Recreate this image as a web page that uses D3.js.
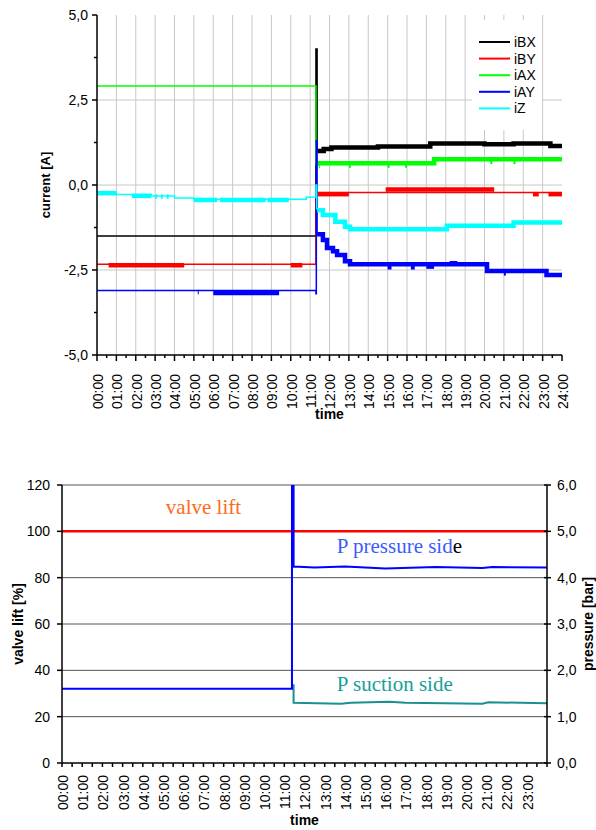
<!DOCTYPE html>
<html>
<head>
<meta charset="UTF-8">
<script src="https://d3js.org/d3.v7.min.js"></script>
<title>valve currents and pressure</title>
<style>
  body { margin: 0; background: #fff; }
  svg { font-family: "Liberation Sans", Arial, sans-serif; }
</style>
</head>
<body>
<svg id="chart" width="596" height="830"></svg>
<script>
// ---------- data ----------
const topHourLabels = ["00:00","01:00","02:00","03:00","04:00","05:00","06:00","07:00","08:00","09:00",
  "10:00","11:00","12:00","13:00","14:00","15:00","16:00","17:00","18:00","19:00","20:00","21:00",
  "22:00","23:00","24:00"];
const bottomHourLabels = topHourLabels.slice(0, 24);
const currentTicks = [5, 2.5, 0, -2.5, -5];
const currentTickText = ["5,0", "2,5", "0,0", "-2,5", "-5,0"];
const liftTicks = [0, 20, 40, 60, 80, 100, 120];
const pressureTicks = [0, 1, 2, 3, 4, 5, 6];
const pressureTickText = ["0,0", "1,0", "2,0", "3,0", "4,0", "5,0", "6,0"];

const seriesNames = ["iBX", "iBY", "iAX", "iAY", "iZ"];
const seriesColors = ["#000000", "#ff0000", "#00ff00", "#0000ff", "#00ffff"];

// thin step lines [hour, A]
const iBX = [[0, -1.5], [11.3, -1.5], [11.3, 4.0], [11.36, 4.0], [11.36, 1.0], [11.4, 1.0]];
const iBY = [[0, -2.33], [11.3, -2.33], [11.3, -0.22], [24, -0.22]];
const iAX = [[0, 2.91], [11.3, 2.91], [11.3, 0.62], [11.4, 0.62]];
const iAY = [[0, -3.1], [11.3, -3.1], [11.3, -3.2], [11.32, -3.2], [11.32, 1.3], [11.36, 1.3], [11.36, -1.4], [11.4, -1.4]];
const iZ = [[0, -0.25], [1.0, -0.28], [2.8, -0.32], [4.0, -0.38], [5.0, -0.42], [10.8, -0.36], [11.3, -0.3],
  [11.3, 0.0], [11.34, 0.0], [11.34, -0.7], [11.4, -0.7]];

// thick noisy bands, each a list of step polylines [hour, A]
const iBXBand = [[[11.38, 1.0], [11.7, 1.06], [12.1, 1.1], [14.5, 1.13], [17.2, 1.22], [20.0, 1.2],
  [21.5, 1.22], [23.4, 1.15], [24, 1.15]]];
const iBYBand = [[[0.6, -2.36], [4.5, -2.36]], [[10.0, -2.36], [10.6, -2.36]],
  [[11.38, -0.27], [13.0, -0.27]], [[14.9, -0.13], [20.5, -0.13]], [[22.5, -0.27], [22.8, -0.27]],
  [[23.3, -0.27], [24, -0.27]]];
const iAXBand = [[[11.38, 0.64], [17.4, 0.64], [17.4, 0.76], [24, 0.76]],
  [[11.45, 0.56], [11.5, 0.56]], [[13.0, 0.57], [13.1, 0.57]], [[15.0, 0.57], [15.1, 0.57]],
  [[15.9, 0.57], [16.0, 0.57]], [[20.3, 0.68], [20.4, 0.68]], [[21.5, 0.68], [21.6, 0.68]]];
const iAYBand = [[[6.0, -3.18], [9.4, -3.18]], [[5.2, -3.15], [5.25, -3.15]],
  [[11.36, -1.45], [11.66, -1.62], [11.87, -1.85], [12.18, -1.95], [12.39, -2.06], [12.8, -2.24],
   [13.06, -2.33], [20.13, -2.53], [23.2, -2.65], [24, -2.65]],
  [[15.0, -2.42], [15.2, -2.42]], [[16.2, -2.42], [16.4, -2.42]], [[17.0, -2.4], [17.4, -2.4]],
  [[18.2, -2.3], [18.6, -2.3]], [[21.0, -2.6], [21.1, -2.6]]];
const iZBand = [[[0, -0.24], [1.0, -0.24]], [[1.8, -0.32], [2.8, -0.32]], [[3.0, -0.34], [3.1, -0.34]],
  [[3.3, -0.34], [3.4, -0.34]], [[3.6, -0.34], [3.7, -0.34]], [[5.0, -0.44], [6.2, -0.44]],
  [[6.35, -0.44], [8.7, -0.44]], [[8.8, -0.44], [9.9, -0.44]],
  [[11.36, -0.74], [11.66, -0.88], [12.3, -1.08], [12.8, -1.23], [13.06, -1.3], [18.06, -1.2],
   [21.5, -1.1], [24, -1.1]]];

const thinLines = [iBX, iBY, iAX, iAY, iZ];
const bands = [iBXBand, iBYBand, iAXBand, iAYBand, iZBand];

// bottom chart
const valveLift = [[0, 100], [24, 100]];                 // %
const pPressure = [[0, 1.6], [11.38, 1.6], [11.38, 7], [11.46, 7], [11.46, 4.24], [12.5, 4.22], [14.0, 4.24],
  [16.0, 4.2], [18.5, 4.23], [20.8, 4.21], [21.3, 4.23], [24, 4.22]]; // bar
const pSuction = [[11.38, 1.68], [11.46, 1.68], [11.46, 1.3], [13.8, 1.28], [14.3, 1.3], [16.2, 1.32],
  [17.0, 1.3], [20.8, 1.28], [21.1, 1.31], [24, 1.29]]; // bar

const svg = d3.select("#chart");
const serif = "'Liberation Serif', 'Times New Roman', serif";

// ---------- top chart ----------
const xT = d3.scaleLinear().domain([0, 24]).range([97, 562]);
const yT = d3.scaleLinear().domain([-5, 5]).range([355, 15]);
const gT = svg.append("g");

// grid
gT.selectAll(".vg").data(d3.range(1, 24)).join("line")
  .attr("x1", d => xT(d)).attr("x2", d => xT(d))
  .attr("y1", yT(5)).attr("y2", yT(-5))
  .attr("stroke", "#c8c8c8").attr("stroke-width", 1);
gT.selectAll(".hg").data([2.5, 0, -2.5]).join("line")
  .attr("x1", xT(0)).attr("x2", xT(24))
  .attr("y1", d => yT(d)).attr("y2", d => yT(d))
  .attr("stroke", "#c8c8c8").attr("stroke-width", 1);

// legend box (white, covers grid)
gT.append("rect").attr("x", 472).attr("y", 20).attr("width", 70).attr("height", 110).attr("fill", "#fff");

// series
const lineT = d3.line().x(d => xT(d[0])).y(d => yT(d[1])).curve(d3.curveStepAfter);
seriesNames.forEach((name, i) => {
  gT.append("path").datum(thinLines[i])
    .attr("d", lineT).attr("fill", "none")
    .attr("stroke", seriesColors[i]).attr("stroke-width", 1.5);
  gT.selectAll(".band" + i).data(bands[i]).join("path")
    .attr("d", lineT).attr("fill", "none")
    .attr("stroke", seriesColors[i]).attr("stroke-width", 4.5);
});

// legend entries
seriesNames.forEach((name, i) => {
  const y = 42 + i * 16.6;
  gT.append("line").attr("x1", 479).attr("x2", 510).attr("y1", y).attr("y2", y)
    .attr("stroke", seriesColors[i]).attr("stroke-width", 2);
  gT.append("text").attr("x", 514).attr("y", y).attr("dy", "0.35em")
    .attr("font-size", 14).text(name);
});

// axes
gT.append("line").attr("x1", xT(0)).attr("x2", xT(0)).attr("y1", yT(5)).attr("y2", yT(-5))
  .attr("stroke", "#000").attr("stroke-width", 1.5);
gT.append("line").attr("x1", xT(0)).attr("x2", xT(24)).attr("y1", yT(-5)).attr("y2", yT(-5))
  .attr("stroke", "#000").attr("stroke-width", 1.5);
gT.selectAll(".yt").data(currentTicks).join("line")
  .attr("x1", xT(0) - 5).attr("x2", xT(0)).attr("y1", d => yT(d)).attr("y2", d => yT(d))
  .attr("stroke", "#000").attr("stroke-width", 1.5);
gT.selectAll(".ym").data([3.75, 1.25, -1.25, -3.75]).join("line")
  .attr("x1", xT(0) - 3).attr("x2", xT(0)).attr("y1", d => yT(d)).attr("y2", d => yT(d))
  .attr("stroke", "#000").attr("stroke-width", 1.5);
gT.selectAll(".yl").data(currentTicks).join("text")
  .attr("x", 88).attr("y", d => yT(d)).attr("dy", "0.35em")
  .attr("text-anchor", "end").attr("font-size", 14)
  .text((d, i) => currentTickText[i]);
gT.selectAll(".xt").data(d3.range(0, 25)).join("line")
  .attr("x1", d => xT(d)).attr("x2", d => xT(d)).attr("y1", yT(-5)).attr("y2", yT(-5) + 6)
  .attr("stroke", "#000").attr("stroke-width", 1.5);
gT.selectAll(".xm").data(d3.range(0.5, 24, 1)).join("line")
  .attr("x1", d => xT(d)).attr("x2", d => xT(d)).attr("y1", yT(-5)).attr("y2", yT(-5) + 3)
  .attr("stroke", "#000").attr("stroke-width", 1.5);
gT.selectAll(".xl").data(topHourLabels).join("text")
  .attr("transform", (d, i) => `translate(${xT(i) + 1},374) rotate(-90)`)
  .attr("dy", "0.35em").attr("text-anchor", "end").attr("font-size", 14)
  .text(d => d);
gT.append("text").attr("x", (xT(0) + xT(24)) / 2).attr("y", 419)
  .attr("text-anchor", "middle").attr("font-size", 14).attr("font-weight", "bold").text("time");
gT.append("text").attr("transform", `translate(45,${yT(0)}) rotate(-90)`)
  .attr("dy", "0.35em").attr("text-anchor", "middle").attr("font-size", 13).attr("font-weight", "bold")
  .text("current [A]");

// ---------- bottom chart ----------
const xB = d3.scaleLinear().domain([0, 24]).range([62, 547]);
const yL = d3.scaleLinear().domain([0, 120]).range([763, 485]);
const yP = d3.scaleLinear().domain([0, 6]).range([763, 485]);
const gB = svg.append("g");

gB.append("clipPath").attr("id", "clipB").append("rect")
  .attr("x", xB(0)).attr("y", yL(120)).attr("width", xB(24) - xB(0)).attr("height", yL(0) - yL(120));

gB.selectAll(".hg").data(liftTicks.slice(1)).join("line")
  .attr("x1", xB(0)).attr("x2", xB(24)).attr("y1", d => yL(d)).attr("y2", d => yL(d))
  .attr("stroke", "#555").attr("stroke-width", 1);

const lineL = d3.line().x(d => xB(d[0])).y(d => yL(d[1]));
const lineP = d3.line().x(d => xB(d[0])).y(d => yP(d[1]));
const plot = gB.append("g").attr("clip-path", "url(#clipB)");
plot.append("path").datum(valveLift).attr("d", lineL).attr("fill", "none")
  .attr("stroke", "#ff0000").attr("stroke-width", 2.5);
plot.append("path").datum(pSuction).attr("d", lineP).attr("fill", "none")
  .attr("stroke", "#1a9090").attr("stroke-width", 2);
plot.append("path").datum(pPressure).attr("d", lineP).attr("fill", "none")
  .attr("stroke", "#0000ff").attr("stroke-width", 2);

// annotations
gB.append("text").attr("x", xB(7.0)).attr("y", yL(107.5)).attr("text-anchor", "middle")
  .style("font-family", serif).attr("font-size", 21)
  .style("fill", "#ff6a1a").text("valve lift");
const pt = gB.append("text").attr("x", xB(13.6)).attr("y", yP(4.53))
  .style("font-family", serif).attr("font-size", 21);
pt.append("tspan").style("fill", "#3b5bff").text("P pressure sid");
pt.append("tspan").style("fill", "#000").text("e");
gB.append("text").attr("x", xB(13.6)).attr("y", yP(1.55))
  .style("font-family", serif).attr("font-size", 21)
  .style("fill", "#17a09a").text("P suction side");

// axes
gB.append("line").attr("x1", xB(0)).attr("x2", xB(0)).attr("y1", yL(120)).attr("y2", yL(0))
  .attr("stroke", "#000").attr("stroke-width", 1.5);
gB.append("line").attr("x1", xB(24)).attr("x2", xB(24)).attr("y1", yL(120)).attr("y2", yL(0))
  .attr("stroke", "#000").attr("stroke-width", 1.5);
gB.append("line").attr("x1", xB(0)).attr("x2", xB(24)).attr("y1", yL(0)).attr("y2", yL(0))
  .attr("stroke", "#000").attr("stroke-width", 1.5);
gB.selectAll(".lt").data(liftTicks).join("line")
  .attr("x1", xB(0) - 5).attr("x2", xB(0)).attr("y1", d => yL(d)).attr("y2", d => yL(d))
  .attr("stroke", "#000").attr("stroke-width", 1.5);
gB.selectAll(".ll").data(liftTicks).join("text")
  .attr("x", 50).attr("y", d => yL(d)).attr("dy", "0.35em").attr("text-anchor", "end")
  .attr("font-size", 14).text(d => d);
gB.selectAll(".pt").data(pressureTicks).join("line")
  .attr("x1", xB(24) - 3).attr("x2", xB(24) + 4).attr("y1", d => yP(d)).attr("y2", d => yP(d))
  .attr("stroke", "#000").attr("stroke-width", 1.5);
gB.selectAll(".pl").data(pressureTicks).join("text")
  .attr("x", 557).attr("y", d => yP(d)).attr("dy", "0.35em")
  .attr("font-size", 14).text((d, i) => pressureTickText[i]);
gB.selectAll(".xt").data(d3.range(0, 24.01, 0.5)).join("line")
  .attr("x1", d => xB(d)).attr("x2", d => xB(d)).attr("y1", yL(0)).attr("y2", yL(0) + 4)
  .attr("stroke", "#000").attr("stroke-width", 1.5);
gB.selectAll(".xl").data(bottomHourLabels).join("text")
  .attr("transform", (d, i) => `translate(${xB(i) + 1},775) rotate(-90)`)
  .attr("dy", "0.35em").attr("text-anchor", "end").attr("font-size", 14)
  .text(d => d);
gB.append("text").attr("x", (xB(0) + xB(24)) / 2).attr("y", 825)
  .attr("text-anchor", "middle").attr("font-size", 14).attr("font-weight", "bold").text("time");
gB.append("text").attr("transform", `translate(18,${yL(60)}) rotate(-90)`)
  .attr("dy", "0.35em").attr("text-anchor", "middle").attr("font-size", 14).attr("font-weight", "bold")
  .text("valve lift [%]");
gB.append("text").attr("transform", `translate(588,${yL(60)}) rotate(-90)`)
  .attr("dy", "0.35em").attr("text-anchor", "middle").attr("font-size", 14).attr("font-weight", "bold")
  .text("pressure [bar]");
</script>
</body>
</html>
